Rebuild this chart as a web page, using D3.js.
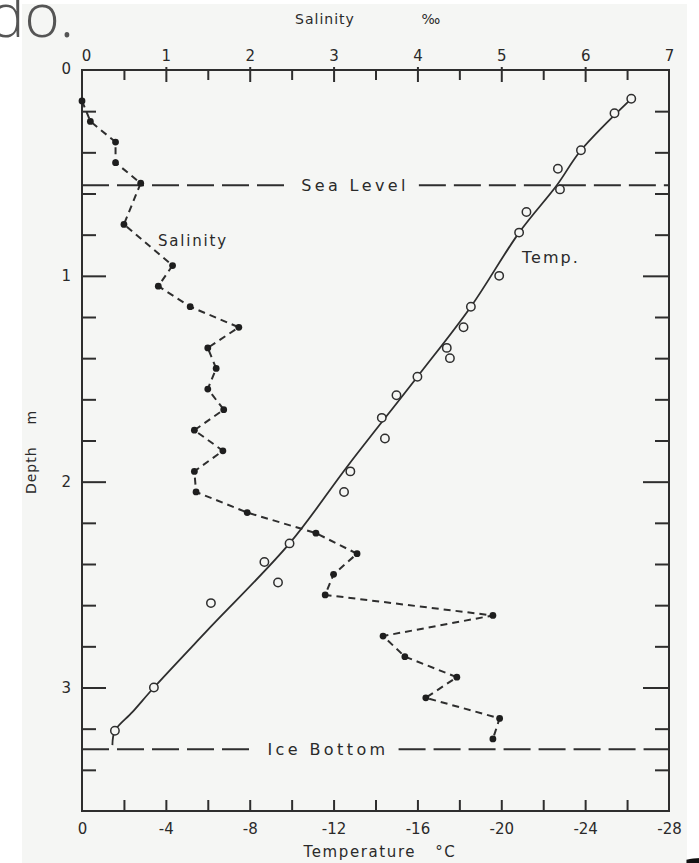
<!DOCTYPE html>
<html>
<head>
<meta charset="utf-8">
<script src="https://cdn.jsdelivr.net/npm/d3@7"></script>
<style>
  html, body { margin: 0; padding: 0; background: #ffffff; }
  svg { display: block; }
  text { font-family: "DejaVu Sans", sans-serif; fill: #2a2a2a; }
</style>
</head>
<body>
<svg id="chart" width="699" height="863"></svg>
<script>
// ---------- data ----------
// Salinity profile (‰) vs depth (m)
const salDepth = [0.15,0.25,0.35,0.45,0.55,0.75,0.95,1.05,1.15,1.25,1.35,1.45,1.55,1.65,1.75,1.85,1.95,2.05,2.15,2.25,2.35,2.45,2.55,2.65,2.75,2.85,2.95,3.05,3.15,3.25];
const salValue = [0.0,0.1,0.4,0.4,0.7,0.5,1.08,0.91,1.29,1.87,1.5,1.6,1.5,1.69,1.34,1.68,1.34,1.36,1.97,2.79,3.28,3.0,2.9,4.9,3.59,3.85,4.47,4.1,4.98,4.9];
// Temperature observations (°C) vs depth (m)
const tempDepth = [0.14,0.21,0.39,0.48,0.58,0.69,0.79,1.0,1.15,1.25,1.35,1.40,1.49,1.58,1.69,1.79,1.95,2.05,2.30,2.39,2.49,2.59,3.0,3.21];
const tempValue = [-26.2,-25.4,-23.8,-22.7,-22.8,-21.2,-20.85,-19.9,-18.55,-18.2,-17.4,-17.55,-16.0,-15.0,-14.3,-14.45,-12.8,-12.5,-9.9,-8.7,-9.35,-6.15,-3.43,-1.57];
// Smooth temperature curve drawn through the observations
const curveDepth = [0.14,0.39,0.56,0.79,1.15,1.49,1.92,2.30,2.72,3.0,3.12,3.21,3.28];
const curveTemp  = [-26.2,-23.8,-22.65,-20.85,-18.55,-16.0,-12.7,-9.9,-6.0,-3.43,-2.4,-1.57,-1.45];
// Reference levels (m)
const levelNames = ["Sea Level","Ice Bottom"];
const levelDepth = [0.56, 3.30];
// Axis ticks
const salTickLabels = [0,1,2,3,4,5,6,7];
const salMinorTicks = [0.5,1,1.5,2,2.5,3,3.5,4,4.5,5,5.5,6,6.5];
const tempTickLabels = [0,-4,-8,-12,-16,-20,-24,-28];
const tempMinorTicks = [-2,-4,-6,-8,-10,-12,-14,-16,-18,-20,-22,-24,-26];
const depthTickLabels = [0,1,2,3];
const depthMinorTicks = [0.2,0.4,0.6,0.8,1,1.2,1.4,1.6,1.8,2,2.2,2.4,2.6,2.8,3,3.2,3.4];

// ---------- layout ----------
const svg = d3.select("#chart");
const L = 82, R = 669, T = 70, B = 811;
const x = d3.scaleLinear().domain([0, 7]).range([L, R]);
const xt = d3.scaleLinear().domain([0, -28]).range([L, R]);
const y = d3.scaleLinear().domain([0, 3.6]).range([T, B]);
const ink = "#2e2e2e";
const bg = "#f5f6f4";

// figure background (scanned page)
svg.append("rect").attr("x", 22).attr("y", 4).attr("width", 665).attr("height", 859).attr("fill", bg);

// stray text from the surrounding page
svg.append("text").attr("x", 74).attr("y", 37).attr("text-anchor", "end")
  .style("font-family", "'Open Sans', sans-serif").style("font-weight", 300)
  .style("font-size", "60px").style("fill", "#555").text("ado.");

// frame
svg.append("rect").attr("x", L).attr("y", T).attr("width", R - L).attr("height", B - T)
  .attr("fill", "none").attr("stroke", ink).attr("stroke-width", 2);

function styleAxis(g) {
  g.select(".domain").remove();
  g.selectAll(".tick line").attr("stroke", ink).attr("stroke-width", 2);
  g.selectAll(".tick text").style("font-size", "15px").style("font-family", "'DejaVu Sans', sans-serif").attr("fill", "#2a2a2a");
}

// top axis (salinity)
const gTop = svg.append("g").attr("transform", `translate(0,${T})`)
  .call(d3.axisTop(x).tickValues(salMinorTicks).tickSize(-10).tickFormat(""));
styleAxis(gTop);
gTop.selectAll(".tick line").filter(d => Number.isInteger(d)).attr("y1", -3).attr("y2", 12);
const gTopL = svg.append("g").attr("transform", `translate(0,${T})`)
  .call(d3.axisTop(x).tickValues(salTickLabels).tickSize(0).tickPadding(9).tickFormat(d => String(d)));
styleAxis(gTopL);
gTopL.selectAll(".tick text").attr("dx", (d) => d === 0 ? 4 : 0);

// bottom axis (temperature)
const gBot = svg.append("g").attr("transform", `translate(0,${B})`)
  .call(d3.axisBottom(xt).tickValues(tempMinorTicks).tickSize(-11).tickFormat(""));
styleAxis(gBot);
const gBotL = svg.append("g").attr("transform", `translate(0,${B})`)
  .call(d3.axisBottom(xt).tickValues(tempTickLabels).tickSize(0).tickPadding(12).tickFormat(d => String(d)));
styleAxis(gBotL);

// left axis (depth)
const gLeft = svg.append("g").attr("transform", `translate(${L},0)`)
  .call(d3.axisLeft(y).tickValues(depthMinorTicks).tickSize(-14).tickFormat(""));
styleAxis(gLeft);
gLeft.selectAll(".tick line").filter(d => Number.isInteger(d)).attr("x2", 24);
const gLeftL = svg.append("g").attr("transform", `translate(${L},0)`)
  .call(d3.axisLeft(y).tickValues(depthTickLabels).tickSize(0).tickPadding(11).tickFormat(d => String(d)));
styleAxis(gLeftL);
gLeftL.selectAll(".tick text").attr("dy", d => d === 0 ? "0.2em" : "0.32em");

// right axis
const gRight = svg.append("g").attr("transform", `translate(${R},0)`)
  .call(d3.axisRight(y).tickValues(depthMinorTicks).tickSize(-14).tickFormat(""));
styleAxis(gRight);
gRight.selectAll(".tick line").filter(d => Number.isInteger(d)).attr("x2", -26);

// axis titles
svg.append("text").attr("x", 325).attr("y", 24).attr("text-anchor", "middle")
  .style("font-size", "14px").style("letter-spacing", "1px").text("Salinity");
svg.append("text").attr("x", 431).attr("y", 24).attr("text-anchor", "middle")
  .style("font-size", "14px").text("‰");
svg.append("text").attr("x", 380).attr("y", 857).attr("text-anchor", "middle")
  .style("font-size", "15px").style("letter-spacing", "1.6px").style("white-space", "pre")
  .text("Temperature   °C");
svg.append("text").attr("transform", "translate(36,452) rotate(-90)").attr("text-anchor", "middle")
  .style("font-size", "14px").style("letter-spacing", "1px").style("white-space", "pre")
  .text("Depth    m");

// reference levels with centred labels
const levelCenter = [355, 328];
levelNames.forEach((name, i) => {
  const yy = y(levelDepth[i]);
  const t = svg.append("text").attr("x", levelCenter[i]).attr("y", yy).attr("dy", "0.36em")
    .attr("text-anchor", "middle").style("font-size", "16px").style("letter-spacing", "3.4px").text(name);
  const bb = t.node().getBBox();
  const dash = "27,8";
  svg.append("line").attr("x1", L).attr("x2", bb.x - 12).attr("y1", yy).attr("y2", yy)
    .attr("stroke", ink).attr("stroke-width", 2).attr("stroke-dasharray", dash);
  svg.append("line").attr("x1", bb.x + bb.width + 10).attr("x2", R).attr("y1", yy).attr("y2", yy)
    .attr("stroke", ink).attr("stroke-width", 2).attr("stroke-dasharray", dash);
});

// salinity dashed profile
const sal = salDepth.map((d, i) => ({ d, v: salValue[i] }));
svg.append("path").datum(sal)
  .attr("d", d3.line().x(p => x(p.v)).y(p => y(p.d)))
  .attr("fill", "none").attr("stroke", ink).attr("stroke-width", 2).attr("stroke-dasharray", "7,5");
svg.selectAll("circle.sal").data(sal).join("circle").attr("class", "sal")
  .attr("cx", p => x(p.v)).attr("cy", p => y(p.d)).attr("r", 3.4).attr("fill", "#1e1e1e");

// temperature smooth curve
const curve = curveDepth.map((d, i) => ({ d, v: curveTemp[i] }));
svg.append("path").datum(curve)
  .attr("d", d3.line().curve(d3.curveCatmullRom.alpha(0.5)).x(p => xt(p.v)).y(p => y(p.d)))
  .attr("fill", "none").attr("stroke", ink).attr("stroke-width", 1.8);
const temp = tempDepth.map((d, i) => ({ d, v: tempValue[i] }));
svg.selectAll("circle.temp").data(temp).join("circle").attr("class", "temp")
  .attr("cx", p => xt(p.v)).attr("cy", p => y(p.d)).attr("r", 4.2)
  .attr("fill", bg).attr("stroke", ink).attr("stroke-width", 1.5);

// series labels
svg.append("text").attr("x", 158).attr("y", 246).style("font-size", "15px").style("letter-spacing", "1.8px").text("Salinity");
svg.append("text").attr("x", 522).attr("y", 263).style("font-size", "16px").style("letter-spacing", "2px").text("Temp.");

// stray dark glyph at the page corner
svg.append("text").attr("x", 681).attr("y", 892)
  .style("font-size", "60px").style("font-weight", "bold").style("fill", "#111").text("a");
</script>
</body>
</html>
